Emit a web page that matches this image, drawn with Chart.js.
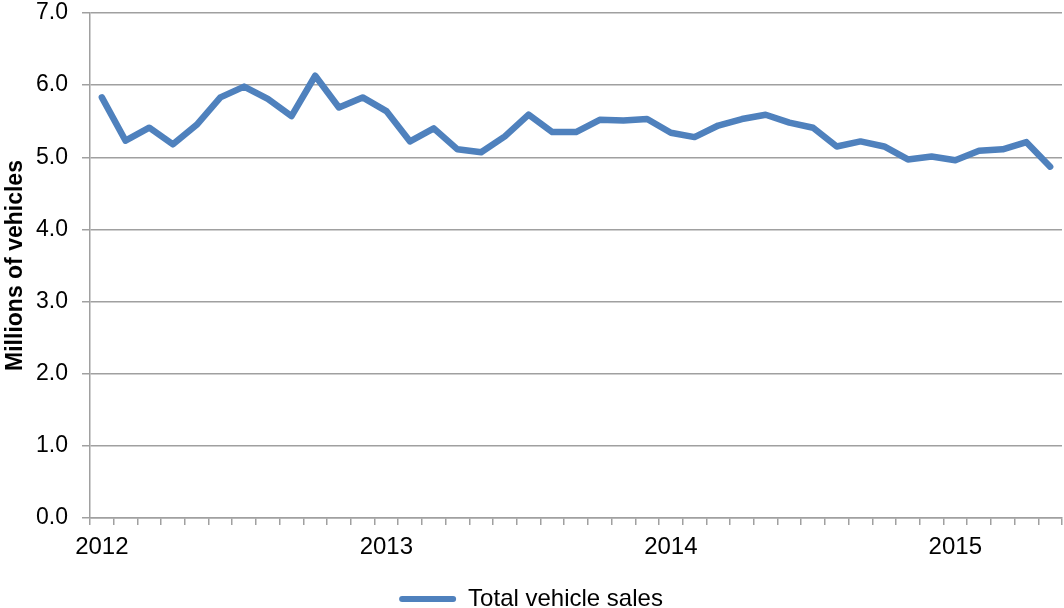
<!DOCTYPE html>
<html>
<head>
<meta charset="utf-8">
<script src="https://cdn.jsdelivr.net/npm/chart.js@4/dist/chart.umd.min.js"></script>
<style>
html,body{margin:0;padding:0;background:#fff;}
#wrap{width:1064px;height:608px;position:relative;}
</style>
</head>
<body>
<div id="wrap"><canvas id="c" width="1064" height="608"></canvas></div>
<script>
const categories = [
  "2012-01","2012-02","2012-03","2012-04","2012-05","2012-06","2012-07","2012-08","2012-09","2012-10","2012-11","2012-12",
  "2013-01","2013-02","2013-03","2013-04","2013-05","2013-06","2013-07","2013-08","2013-09","2013-10","2013-11","2013-12",
  "2014-01","2014-02","2014-03","2014-04","2014-05","2014-06","2014-07","2014-08","2014-09","2014-10","2014-11","2014-12",
  "2015-01","2015-02","2015-03","2015-04","2015-05"
];
const totalVehicleSales = [
  5.83, 5.23, 5.41, 5.18, 5.45, 5.83, 5.98, 5.81, 5.57, 6.13, 5.69, 5.83,
  5.64, 5.22, 5.40, 5.11, 5.07, 5.29, 5.59, 5.35, 5.35, 5.52, 5.51, 5.53,
  5.34, 5.28, 5.44, 5.53, 5.59, 5.48, 5.41, 5.15, 5.22, 5.15, 4.97, 5.01,
  4.96, 5.09, 5.11, 5.21, 4.87
];
const yTickValues = [0, 1, 2, 3, 4, 5, 6, 7];
const seriesName = "Total vehicle sales";
const yTitle = "Millions of vehicles";

const FONT = "'Liberation Sans', Arial, sans-serif";
const LINE = "#4F81BD";
const GRID = "#a0a0a0";

new Chart(document.getElementById('c'), {
  type: 'line',
  data: {
    labels: categories,
    datasets: [{
      label: seriesName,
      data: totalVehicleSales,
      borderColor: LINE,
      backgroundColor: LINE,
      borderWidth: 6.5,
      pointRadius: 0,
      pointHoverRadius: 0,
      tension: 0,
      borderJoinStyle: 'round',
      borderCapStyle: 'round',
      fill: false
    }]
  },
  options: {
    responsive: false,
    animation: false,
    events: [],
    layout: { padding: { top: 0, right: 2, bottom: -13, left: 0 } },
    plugins: {
      tooltip: { enabled: false },
      legend: {
        position: 'bottom',
        labels: {
          font: { family: FONT, size: 24 },
          color: '#000',
          boxWidth: 57,
          boxHeight: 6,
          padding: 0,
          useBorderRadius: true,
          borderRadius: 3,
          generateLabels: (chart) => chart.data.datasets.map((d, i) => ({
            text: d.label,
            fillStyle: LINE,
            strokeStyle: LINE,
            lineWidth: 0,
            hidden: false,
            datasetIndex: i,
            borderRadius: 3,
            fontColor: '#000'
          }))
        }
      }
    },
    scales: {
      x: {
        type: 'category',
        offset: true,
        grid: {
          offset: true,
          drawOnChartArea: false,
          drawTicks: true,
          tickLength: 7,
          color: GRID,
          lineWidth: 1.5
        },
        border: { display: true, color: GRID, width: 1.5 },
        ticks: {
          autoSkip: false,
          maxRotation: 0,
          minRotation: 0,
          padding: 8,
          color: '#000',
          font: { family: FONT, size: 24 },
          callback: function(value, index) {
            const c = categories[index];
            return c.endsWith('-01') ? c.slice(0, 4) : '';
          }
        },
        afterFit: (scale) => { scale.height = 69; scale.paddingLeft = 0; scale.paddingRight = 0; }
      },
      y: {
        min: yTickValues[0],
        max: yTickValues[yTickValues.length - 1],
        afterBuildTicks: (scale) => { scale.ticks = yTickValues.map(v => ({ value: v })); },
        grid: {
          drawOnChartArea: true,
          drawTicks: true,
          tickLength: 8,
          color: GRID,
          lineWidth: 1.5
        },
        border: { display: true, color: GRID, width: 1.5 },
        ticks: {
          padding: 14,
          color: '#000',
          font: { family: FONT, size: 23 },
          callback: (v) => Number(v).toFixed(1)
        },
        title: {
          display: true,
          text: yTitle,
          color: '#000',
          font: { family: FONT, size: 23, weight: 'bold' },
          padding: { top: 2, bottom: 0 }
        },
        afterFit: (scale) => { scale.width = 90; scale.paddingTop = 13; scale.paddingBottom = 0; }
      }
    }
  }
});
</script>
</body>
</html>
